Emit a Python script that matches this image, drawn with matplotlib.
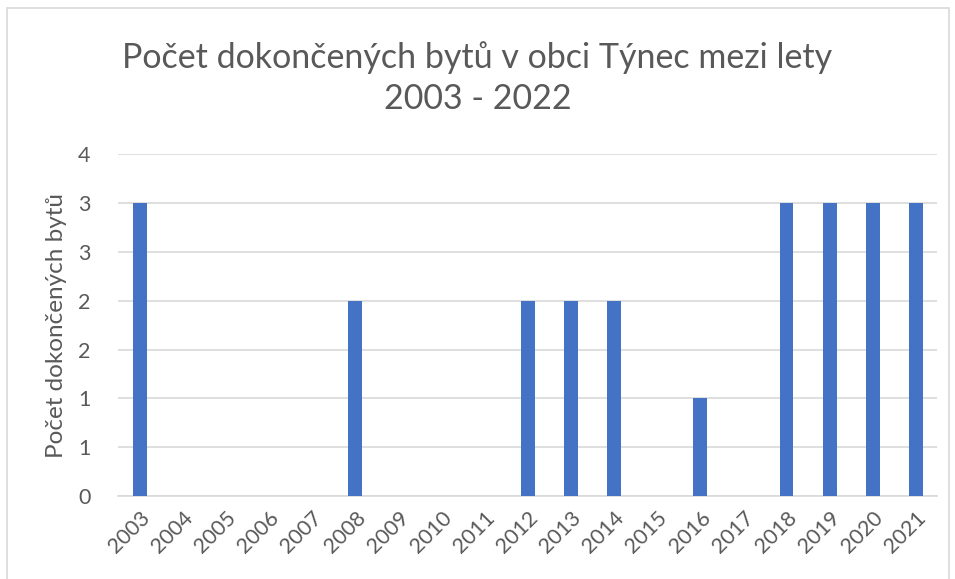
import matplotlib
matplotlib.use('Agg')
import matplotlib.pyplot as plt
from matplotlib.ticker import FuncFormatter, MultipleLocator
from matplotlib.patches import Rectangle

years = ['2003', '2004', '2005', '2006', '2007', '2008', '2009', '2010', '2011', '2012',
         '2013', '2014', '2015', '2016', '2017', '2018', '2019', '2020', '2021']
byty = [3, 0, 0, 0, 0, 2, 0, 0, 0, 2, 2, 2, 0, 1, 0, 3, 3, 3, 3]

plt.rcParams['font.family'] = ['Lato', 'DejaVu Sans']
grey = '#595959'

fig = plt.figure(figsize=(9.55, 5.79), dpi=100)
ax = fig.add_axes([0.1236, 0.143, 0.858, 0.591])

x = range(len(years))
ax.bar(x, byty, width=0.32, color='#4472C4', zorder=3)

ax.set_xlim(-0.5, len(years) - 0.5)
ax.set_ylim(0, 3.5)
ax.yaxis.set_major_locator(MultipleLocator(0.5))
# Excel zaokrouhluje popisky osy na celá čísla
ax.yaxis.set_major_formatter(FuncFormatter(lambda v, pos: str(int(v + 0.5))))
ax.grid(axis='y', color='#d9d9d9', linewidth=1.2, zorder=0)

ax.set_xticks(list(x))
ax.set_xticklabels(years, rotation=45, ha='right', rotation_mode='anchor')
ax.tick_params(axis='both', length=0, labelsize=15.5, colors=grey)
ax.tick_params(axis='y', pad=20)
ax.tick_params(axis='x', pad=8)

for s in ['top', 'right', 'left']:
    ax.spines[s].set_visible(False)
ax.spines['bottom'].set_color('#d9d9d9')
ax.spines['bottom'].set_linewidth(1.2)

ax.set_ylabel('Počet dokončených bytů', fontsize=17.5, color=grey, labelpad=8)

fig.text(0.5, 0.865, 'Počet dokončených bytů v obci Týnec mezi lety\n2003 - 2022',
         ha='center', va='center', fontsize=24.5, color=grey, linespacing=1.35)

fig.patches.append(Rectangle((7 / 955, -0.01), 942 / 955, 1 - 8 / 579 + 0.01,
                             transform=fig.transFigure, fill=False,
                             edgecolor='#d9d9d9', linewidth=1.2))

fig.savefig('out.png', dpi=100, facecolor='white')
